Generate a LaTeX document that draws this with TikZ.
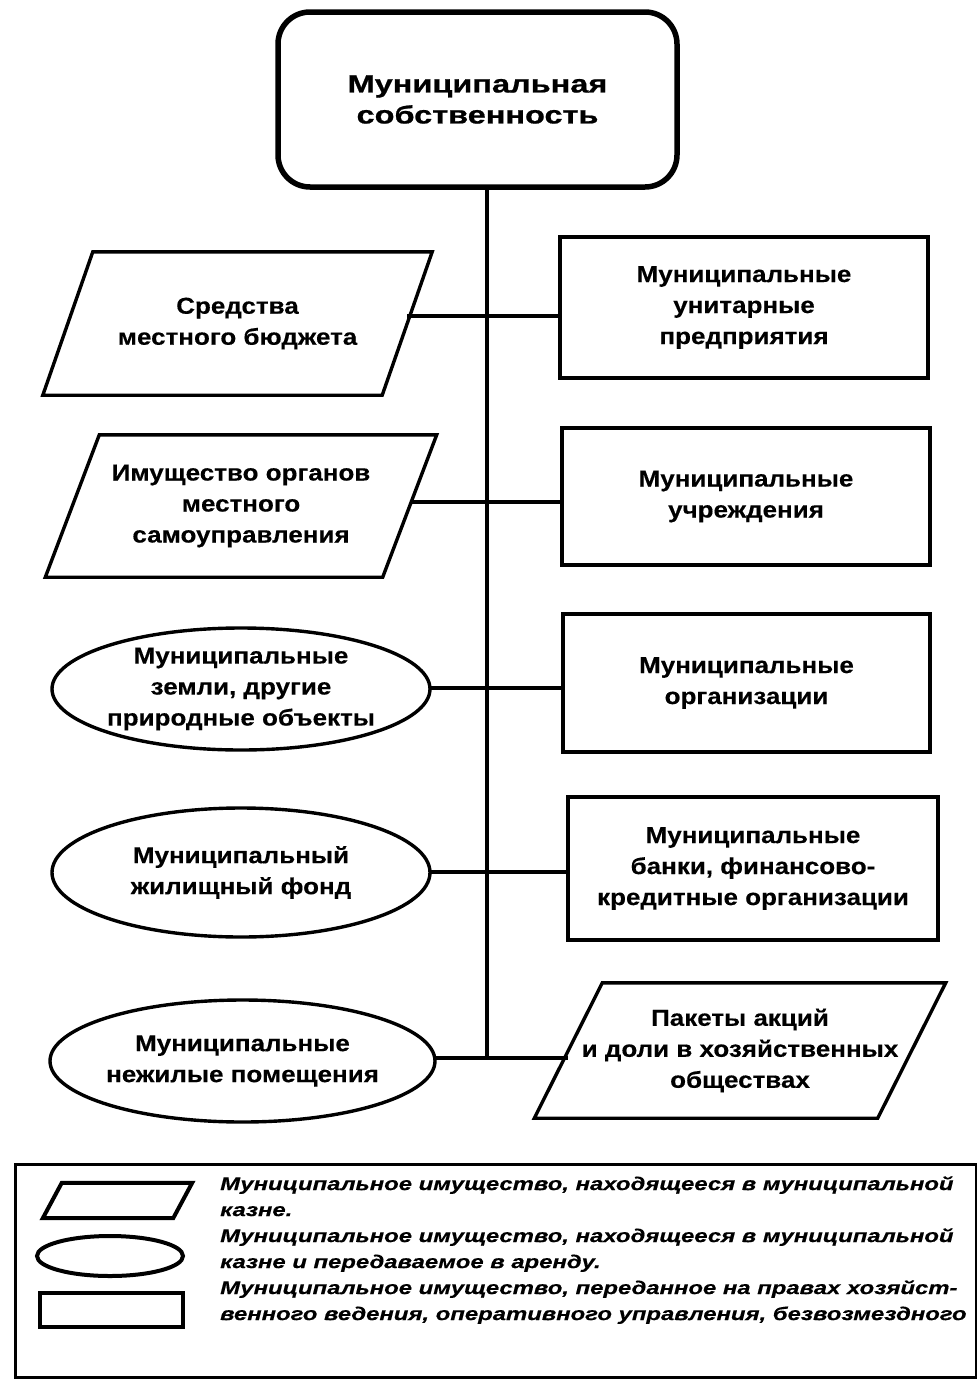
\documentclass[tikz,border=0pt]{standalone}
\usepackage{fontspec}
\setmainfont{Liberation Sans}
\newfontfamily\mainf{Liberation Sans}[FakeStretch=1.13,FakeBold=0.3]
\newfontfamily\titlef{Liberation Sans}[FakeStretch=1.3,FakeBold=0.8]
\newfontfamily\legf{Liberation Sans}[FakeStretch=1.29,FakeBold=0.4]
\usetikzlibrary{calc}
\begin{document}
\begin{tikzpicture}[x=1pt,y=-1pt,
  txt/.style={inner sep=0pt, align=center, font=\mainf\bfseries\fontsize{23}{31}\selectfont},
  rbox/.style={txt, draw, line width=3.4pt},
  shapeline/.style={line width=3.4pt},
  link/.style={line width=3.2pt},
  titlebox/.style={draw, line width=5.5pt, rounded corners=32pt, inner sep=0pt, align=center,
    font=\titlef\bfseries\fontsize{25}{31}\selectfont},
  legshape/.style={line width=4pt},
  legtext/.style={inner sep=0pt, align=left, font=\legf\bfseries\itshape\fontsize{18.5}{26}\selectfont}
]
\useasboundingbox[fill=white] (0,0) rectangle (977,1384);

% title
\node[titlebox, minimum width=399, minimum height=175] (top) at (477.5,99.5) {Муниципальная\\собственность};

% right rectangles
\node[rbox, minimum width=368, minimum height=141] (r1) at (744,307.5) {Муниципальные\\унитарные\\предприятия};
\node[rbox, minimum width=368, minimum height=137] (r2) at (746,496.5) {Муниципальные\\учреждения};
\node[rbox, minimum width=367, minimum height=138] (r3) at (746.5,683) {Муниципальные\\организации};
\node[rbox, minimum width=370, minimum height=143] (r4) at (753,868.5) {Муниципальные\\банки, финансово-\\кредитные организации};

% parallelograms (text holders)
\node[txt, minimum width=339, minimum height=143] (p1) at (237.5,323.5) {Средства\\местного бюджета};
\node[txt, minimum width=337, minimum height=142] (p2) at (241,506) {Имущество органов\\местного\\самоуправления};
\node[txt, minimum width=343, minimum height=135] (p5) at (740,1050.5) {Пакеты акций\\и доли в хозяйственных\\обществах};
\draw[shapeline] ($(p1.north west)+(25,0)$) -- ($(p1.north east)+(25,0)$) -- ($(p1.south east)+(-25,0)$) -- ($(p1.south west)+(-25,0)$) -- cycle;
\draw[shapeline] ($(p2.north west)+(27,0)$) -- ($(p2.north east)+(27,0)$) -- ($(p2.south east)+(-27,0)$) -- ($(p2.south west)+(-27,0)$) -- cycle;
\draw[shapeline] ($(p5.north west)+(34,0)$) -- ($(p5.north east)+(34,0)$) -- ($(p5.south east)+(-34,0)$) -- ($(p5.south west)+(-34,0)$) -- cycle;

% ellipses (text holders)
\node[txt, minimum width=378, minimum height=122] (e1) at (241,689) {Муниципальные\\земли, другие\\природные объекты};
\node[txt, minimum width=378, minimum height=129] (e2) at (241,872.5) {Муниципальный\\жилищный фонд};
\node[txt, minimum width=385, minimum height=122] (e3) at (242.5,1061) {Муниципальные\\нежилые помещения};
\draw[shapeline] (e1.center) ellipse [x radius=189, y radius=61];
\draw[shapeline] (e2.center) ellipse [x radius=189, y radius=64.5];
\draw[shapeline] (e3.center) ellipse [x radius=192.5, y radius=61];

% spine and connectors
\coordinate (s1) at (487,316);
\coordinate (s2) at (487,502);
\coordinate (s3) at (487,688);
\coordinate (s4) at (487,872);
\coordinate (s5) at (487,1058);
\draw[link] (top.south -| s5) -- (s5);
\draw[link] (p1.east |- s1) -- (r1.west |- s1);
\draw[link] (p2.east |- s2) -- (r2.west |- s2);
\draw[link] (e1.east |- s3) -- (r3.west |- s3);
\draw[link] (e2.east |- s4) -- (r4.west |- s4);
\draw[link] (e3.east |- s5) -- (p5.west |- s5);

% legend
\node[draw, line width=3.4pt, minimum width=961, minimum height=213, inner sep=0pt, anchor=north west] (legend) at (14,1163) {};
\node[inner sep=0pt, minimum width=130, minimum height=35] (lp) at (117.5,1200.5) {};
\draw[legshape] ($(lp.north west)+(9.5,0)$) -- ($(lp.north east)+(9.5,0)$) -- ($(lp.south east)+(-9.5,0)$) -- ($(lp.south west)+(-9.5,0)$) -- cycle;
\node[inner sep=0pt, minimum width=146, minimum height=40] (le) at (110,1256) {};
\draw[legshape] (le.center) ellipse [x radius=73, y radius=20];
\node[draw, legshape, inner sep=0pt, minimum width=143, minimum height=34] (lr) at (111.5,1310) {};
\node[legtext, anchor=north west] (lt) at (220,1176) {Муниципальное имущество, находящееся в муниципальной\\казне.\\Муниципальное имущество, находящееся в муниципальной\\казне и передаваемое в аренду.\\Муниципальное имущество, переданное на правах хозяйст-\\венного ведения, оперативного управления, безвозмездного};
\end{tikzpicture}
\end{document}
